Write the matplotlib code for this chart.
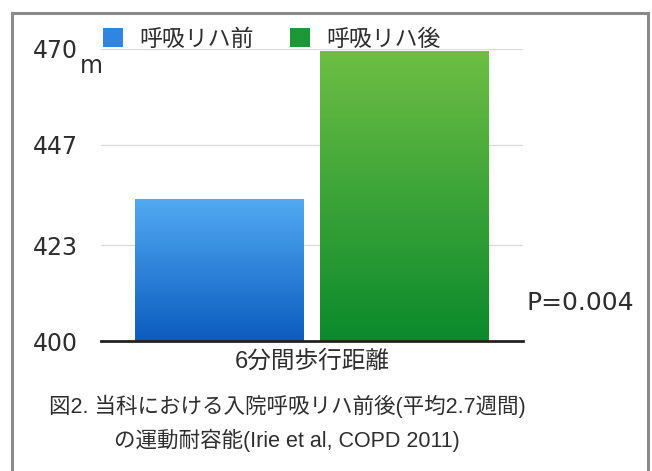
import numpy as np
import matplotlib
matplotlib.use("Agg")
import matplotlib.pyplot as plt
from matplotlib.patches import Patch, Rectangle

plt.rcParams["font.family"] = ["DejaVu Sans", "Noto Sans CJK JP"]
jp_font = ["Liberation Sans", "Noto Sans CJK JP", "DejaVu Sans"]

category = "6分間歩行距離"
series_names = ["呼吸リハ前", "呼吸リハ後"]
series_values = [434, 469.5]
y_ticks = [400, 423, 447, 470]
p_text = "P=0.004"
caption = "図2. 当科における入院呼吸リハ前後(平均2.7週間)\nの運動耐容能(Irie et al, COPD 2011)"

# gradient colours, top -> bottom
grad_colors = [("#52aaf2", "#0b5cbf"), ("#6dbe44", "#0b8a2c")]
legend_colors = ["#2f86e2", "#1c9838"]
text_color = "#2e2e2e"

fig = plt.figure(figsize=(6.52, 4.71), dpi=100)
ax = fig.add_axes([0.155, 0.276, 0.647, 0.620])

offsets = [-0.219, 0.219]
width = 0.40
bars = ax.bar(offsets, series_values, width=width,
              bottom=0, facecolor="none", edgecolor="none")

for bar, (c_top, c_bot) in zip(bars, grad_colors):
    x0 = bar.get_x()
    x1 = x0 + bar.get_width()
    y1 = bar.get_height()
    top = np.array(matplotlib.colors.to_rgb(c_top))
    bot = np.array(matplotlib.colors.to_rgb(c_bot))
    t = np.linspace(0, 1, 256)[:, None]
    grad = (top * (1 - t) + bot * t)[:, None, :]
    im = ax.imshow(grad, extent=[x0, x1, y_ticks[0], y1], aspect="auto",
                   origin="upper", zorder=2)
    im.set_clip_path(bar)

ax.set_xlim(-0.5, 0.5)
ax.set_ylim(y_ticks[0], y_ticks[-1])

for v in y_ticks[1:]:
    ax.axhline(v, color="#dadada", lw=0.9, zorder=1)
ax.axhline(y_ticks[0], color="#222222", lw=2.0, zorder=3, clip_on=False)

for s in ax.spines.values():
    s.set_visible(False)
ax.set_yticks(y_ticks)
ax.set_yticklabels([str(v) for v in y_ticks], fontsize=17, color=text_color)
ax.tick_params(axis="y", length=0, pad=17)
ax.set_xticks([0])
ax.set_xticklabels([category], fontsize=17, color=text_color, family=jp_font)
ax.tick_params(axis="x", length=0, pad=7)

ax.text(-0.051, 0.918, "m", transform=ax.transAxes, fontsize=17,
        color=text_color, ha="left", va="baseline")

ax.text(1.008, 0.13, p_text, transform=ax.transAxes, fontsize=18,
        color=text_color, ha="left", va="center")

handles = [Patch(facecolor=c, edgecolor="none") for c in legend_colors]
fig.legend(handles, series_names, loc="center left",
           bbox_to_anchor=(103 / 652, 1 - 39 / 471), ncol=2, frameon=False,
           prop={"family": jp_font, "size": 16.5},
           handlelength=0.87, handleheight=0.87, borderaxespad=0,
           handletextpad=0.7, columnspacing=1.6, borderpad=0,
           labelcolor=text_color)

fig.text(287 / 652, 1 - 423 / 471, caption, ha="center", va="center",
         fontsize=15.5, color=text_color, linespacing=1.6, family=jp_font)

# outer frame
fig.patches.append(Rectangle((12 / 652, -0.05), 636 / 652, 1 - 13 / 471 + 0.05,
                             transform=fig.transFigure, fill=False,
                             edgecolor="#8a8a8a", lw=2.2))

fig.savefig("out.png", dpi=100)
